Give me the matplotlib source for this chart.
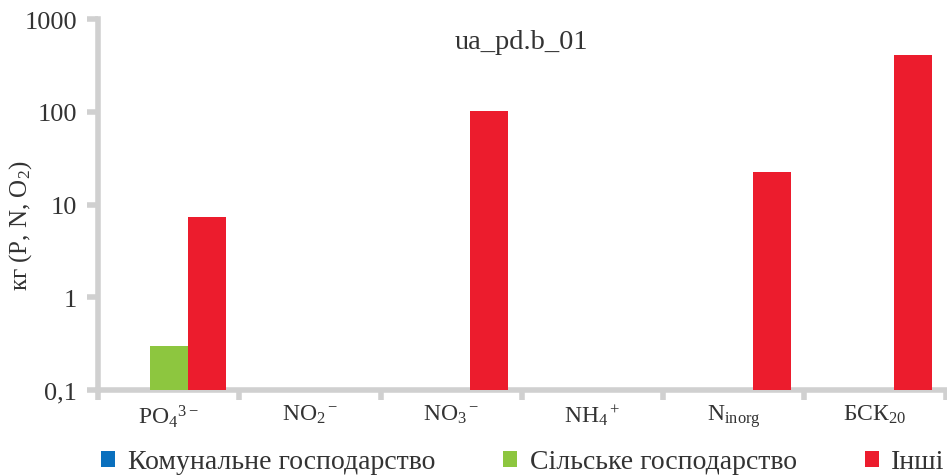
import numpy as np
import matplotlib
matplotlib.use("Agg")
import matplotlib.pyplot as plt

plt.rcParams['font.family'] = ['Liberation Serif', 'DejaVu Serif']
plt.rcParams['mathtext.fontset'] = 'custom'
plt.rcParams['mathtext.rm'] = 'Liberation Serif'
plt.rcParams['mathtext.it'] = 'Liberation Serif'

# Категорії та значення (кг), NaN = немає даних
categories = [r"PO$_4$$^{3-}$", r"NO$_2$$^-$", r"NO$_3$$^-$", r"NH$_4$$^+$",
              r"N$_{\mathrm{inorg}}$", r"БСК$_{20}$"]
komunalne = [np.nan, np.nan, np.nan, np.nan, np.nan, np.nan]
silske = [0.3, np.nan, np.nan, np.nan, np.nan, np.nan]
inshi = [7.3, np.nan, 102, np.nan, 22.4, 410]

series = [("Комунальне господарство", komunalne, "#0a70be"),
          ("Сільське господарство", silske, "#8dc63f"),
          ("Інші", inshi, "#ec1c2d")]

fig = plt.figure(figsize=(9.47, 4.77), dpi=100)
ax = fig.add_axes([0.1035, 0.180, 0.895, 0.778])

x = np.arange(len(categories))
w = 0.27
for i, (name, vals, col) in enumerate(series):
    ax.bar(x + (i - 1) * w, vals, w, bottom=0, color=col, label=name,
           edgecolor='none', zorder=2)

ax.set_yscale('log')
ax.set_ylim(0.1, 1000)
ax.set_xlim(-0.5, len(categories) - 0.5)
ax.set_yticks([0.1, 1, 10, 100, 1000])
ax.set_yticklabels(["0,1", "1", "10", "100", "1000"])
ax.minorticks_off()

# категорійні підписи між поділками
ax.set_xticks(np.arange(len(categories) + 1) - 0.5)
ax.set_xticklabels([])
ax.set_xticks(x, minor=True)
ax.set_xticklabels(categories, minor=True, fontsize=17, color='#333333')
ax.tick_params(axis='x', which='minor', length=0, pad=9)
ax.tick_params(axis='x', which='major', length=7, width=4, color='#d0d0d0')
ax.tick_params(axis='y', length=8, width=4, color='#d0d0d0',
               labelsize=19, labelcolor='#333333', pad=7)

for s in ['top', 'right']:
    ax.spines[s].set_visible(False)
for s in ['left', 'bottom']:
    ax.spines[s].set_color('#d0d0d0')
    ax.spines[s].set_linewidth(4)
    ax.spines[s].set_zorder(1)

ax.set_ylabel(r"кг (P, N, O$_2$)", fontsize=18, color='#333333')
ax.yaxis.set_label_coords(-0.075, 0.447)
ax.text(0.5, 0.94, "ua_pd.b_01", transform=ax.transAxes, ha='center',
        va='center', fontsize=20.5, color='#333333')

ax.legend(loc='upper left', bbox_to_anchor=(-0.009, -0.13), ncol=3,
          frameon=False, fontsize=20, handlelength=0.5, handleheight=0.5,
          handletextpad=0.45, columnspacing=2.45, borderaxespad=0,
          labelcolor='#333333')

fig.savefig("out.png", dpi=100)
